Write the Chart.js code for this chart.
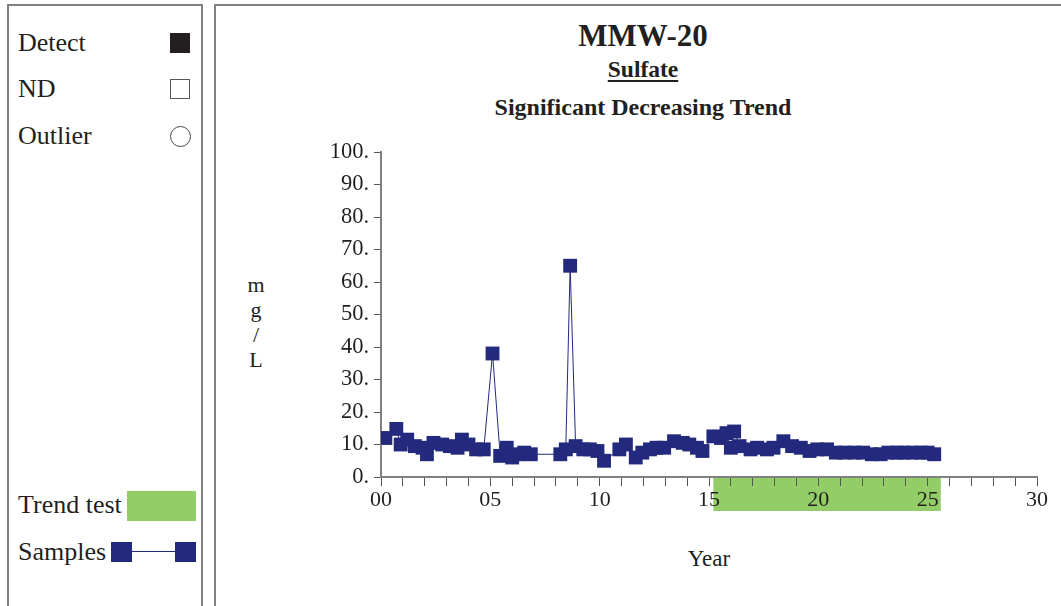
<!DOCTYPE html>
<html>
<head>
<meta charset="utf-8">
<script src="https://cdn.jsdelivr.net/npm/chart.js@4.4.1/dist/chart.umd.min.js"></script>
<style>
  html, body { margin:0; padding:0; background:#fff; }
  body { width:1061px; height:606px; position:relative; overflow:hidden; font-family:"Liberation Serif","Times New Roman",serif; color:#231f20; }
  .abs { position:absolute; }
  .panelL { left:7px; top:4px; width:196px; height:640px; border:2px solid #808080; box-sizing:border-box; border-width:2px; }
  .panelR { left:214px; top:4px; width:900px; height:640px; border:2px solid #808080; box-sizing:border-box; }
  .leg { font-size:26px; line-height:1; white-space:nowrap; }
  .title { width:400px; left:443px; text-align:center; font-weight:bold; white-space:nowrap; line-height:1; }
  canvas { position:absolute; left:0; top:0; }
</style>
</head>
<body>
<div class="abs panelL"></div>
<div class="abs panelR"></div>

<div class="abs leg" style="left:18px; top:30px;">Detect</div>
<div class="abs" style="left:170px; top:33px; width:20px; height:20px; background:#231f20;"></div>
<div class="abs leg" style="left:18px; top:76px;">ND</div>
<div class="abs" style="left:170px; top:79px; width:20px; height:20px; border:1px solid #555; box-sizing:border-box;"></div>
<div class="abs leg" style="left:18px; top:123px;">Outlier</div>
<div class="abs" style="left:170px; top:126px; width:21px; height:21px; border:1px solid #444; border-radius:50%; box-sizing:border-box;"></div>

<div class="abs leg" style="left:18px; top:492px;">Trend test</div>
<div class="abs" style="left:127px; top:491px; width:69px; height:30px; background:#92cd67;"></div>
<div class="abs leg" style="left:18px; top:539px;">Samples</div>
<div class="abs" style="left:111px; top:542px; width:21px; height:20px; background:#232a7e;"></div>
<div class="abs" style="left:132px; top:551px; width:43px; height:1px; background:#232a7e;"></div>
<div class="abs" style="left:175px; top:542px; width:21px; height:20px; background:#232a7e;"></div>

<div class="abs title" style="top:20px; font-size:31px;">MMW-20</div>
<div class="abs title" style="top:58px; font-size:23.5px; text-decoration:underline; text-decoration-thickness:2px; text-underline-offset:3px;">Sulfate</div>
<div class="abs title" style="top:95px; font-size:24px;">Significant Decreasing Trend</div>

<div class="abs" style="left:609px; width:200px; top:546px; text-align:center; font-size:23px;">Year</div>
<div class="abs" style="left:236px; width:40px; top:272px; text-align:center; font-size:22px; line-height:25px;">m<br>g<br>/<br>L</div>

<canvas id="c" width="1061" height="606"></canvas>
<script>
const years = [0.2,0.7,0.9,1.2,1.55,1.9,2.1,2.4,2.8,3.15,3.5,3.7,4.0,4.35,4.7,5.1,5.45,5.75,6.0,6.3,6.55,6.85,
  8.2,8.45,8.65,8.9,9.25,9.55,9.9,10.2,10.9,11.2,11.65,11.95,12.3,12.6,12.95,13.4,13.8,14.1,14.45,14.7,
  15.2,15.55,15.8,16.0,16.15,16.4,16.9,17.2,17.65,17.95,18.4,18.8,19.2,19.6,19.95,20.4,20.8,21.2,21.65,22.05,
  22.45,22.85,23.2,23.6,23.9,24.3,24.7,25.0,25.3];
const sulfate = [12,14.8,10,11.5,9.5,9,7,10.5,10,9.5,9,11.5,10,8.5,8.5,38,6.5,9,6,7,7.5,7,
  7,8.5,65,9.5,8.5,8.5,8,5,8.5,10,6,7.5,8.5,9,9,11,10.5,10,9,8,
  12.5,12,13.5,9,14,9.5,8.5,9,8.5,9,11,9.5,9,8,8.5,8.5,7.5,7.5,7.5,7.5,
  7,7,7.5,7.5,7.5,7.5,7.5,7.5,7];
const trendStart = 15.2, trendEnd = 25.6;
const xTickLabels = {0:'00',5:'05',10:'10',15:'15',20:'20',25:'25',30:'30'};
const yTicks = [0,10,20,30,40,50,60,70,80,90,100];

const navy = '#232a7e';
const trendPlugin = {
  id:'trendBar',
  beforeDraw(chart){
    const x = chart.scales.x, ca = chart.chartArea, ctx = chart.ctx;
    const x0 = x.getPixelForValue(trendStart), x1 = x.getPixelForValue(trendEnd);
    ctx.save();
    ctx.fillStyle = '#92cd67';
    ctx.fillRect(x0, ca.bottom, x1 - x0, 34);
    ctx.restore();
  }
};

new Chart(document.getElementById('c'), {
  type:'scatter',
  data:{ datasets:[{
    data: years.map((v,i)=>({x:v, y:sulfate[i]})),
    showLine:true,
    borderColor:navy, borderWidth:1,
    backgroundColor:navy,
    pointStyle:'rect', pointRadius:9.8, pointHoverRadius:9.8, pointBorderWidth:0
  }]},
  plugins:[trendPlugin],
  options:{
    responsive:false, animation:false,
    layout:{ padding:{ left:321, top:152, right:24, bottom:89 } },
    plugins:{ legend:{display:false}, tooltip:{enabled:false} },
    scales:{
      x:{ type:'linear', min:0, max:30,
        afterFit(s){ s.height = 40; },
        grid:{ drawOnChartArea:false, drawTicks:true, tickLength:9, color:'#555', lineWidth:1 },
        border:{ display:true, color:'#808080', width:2 },
        ticks:{ stepSize:1, autoSkip:false, maxRotation:0, padding:1, color:'#231f20',
          font:{ family:'"Liberation Serif", serif', size:22 },
          callback:(v)=> (xTickLabels[v] !== undefined ? xTickLabels[v] : '') }
      },
      y:{ min:0, max:100,
        afterFit(s){ s.width = 60; },
        afterBuildTicks(s){ s.ticks = yTicks.map(v=>({value:v})); },
        grid:{ drawOnChartArea:false, drawTicks:true, tickLength:7, color:'#555', lineWidth:1 },
        border:{ display:true, color:'#808080', width:2 },
        ticks:{ padding:5, color:'#231f20',
          font:{ family:'"Liberation Serif", serif', size:22.5 },
          callback:(v)=> v + '.' }
      }
    }
  }
});
</script>
</body>
</html>
